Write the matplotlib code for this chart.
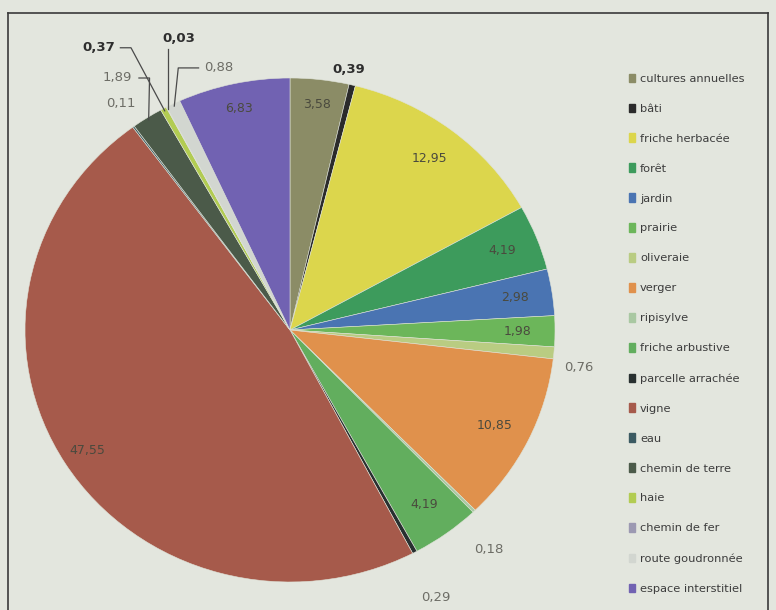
import numpy as np
import matplotlib
matplotlib.use('Agg')
import matplotlib.pyplot as plt

# land use shares (%), clockwise from 12 o'clock
categories = ['cultures annuelles', 'bâti', 'friche herbacée', 'forêt', 'jardin',
              'prairie', 'oliveraie', 'verger', 'ripisylve', 'friche arbustive',
              'parcelle arrachée', 'vigne', 'eau', 'chemin de terre', 'haie',
              'chemin de fer', 'route goudronnée', 'espace interstitiel']
values = [3.58, 0.39, 12.95, 4.19, 2.98, 1.98, 0.76, 10.85, 0.18, 4.19,
          0.29, 47.55, 0.11, 1.89, 0.37, 0.03, 0.88, 6.83]
colors = ['#8b8c66', '#2b2b2b', '#dcd64c', '#3d9b5c', '#4a74b2', '#6cb65a',
          '#b9cc82', '#e0914c', '#a9c8a2', '#62ae5e', '#283030', '#a65a4b',
          '#3b5a62', '#4b5a49', '#b2cc52', '#9c99b2', '#d2d6d0', '#7162b2']
inside = ['cultures annuelles', 'friche herbacée', 'forêt', 'jardin', 'prairie',
          'verger', 'friche arbustive', 'vigne', 'espace interstitiel']

bg = '#e3e6de'
W, H = 776, 610
fig = plt.figure(figsize=(W / 100, H / 100), dpi=100, facecolor=bg)

# frame around the chart
frame = fig.add_axes([8 / W, 0, 760 / W, (H - 13) / H])
frame.set_facecolor(bg)
frame.set_xticks([])
frame.set_yticks([])
frame.spines['bottom'].set_visible(False)
for s in ['top', 'left', 'right']:
    frame.spines[s].set_color('#3a3a3a')
    frame.spines[s].set_linewidth(1.2)

# pie axes (slightly wider than tall, as in the scan)
cx, cy, rx, ry = 290, 330, 265, 252
ax = fig.add_axes([(cx - rx) / W, (H - cy - ry) / H, 2 * rx / W, 2 * ry / H])
ax.set_facecolor('none')
wedges, _ = ax.pie(values, colors=colors, startangle=90, counterclock=False,
                   wedgeprops=dict(edgecolor='#dfe3d8', linewidth=0.4))
ax.set_aspect('auto')
ax.set_xlim(-1, 1)
ax.set_ylim(-1, 1)
ax.axis('off')

def fmt(v):
    return f'{v:.2f}'.replace('.', ',')

# labels inside the big slices
for w, name, v in zip(wedges, categories, values):
    if name not in inside:
        continue
    t = np.deg2rad((w.theta1 + w.theta2) / 2)
    r = 0.9 if name in ('cultures annuelles', 'espace interstitiel', 'vigne') else 0.86
    ax.text(r * np.cos(t), r * np.sin(t), fmt(v), ha='center', va='center',
            fontsize=9, color='#4a4a3e')

# labels outside the small slices: text position (pie units), leader line or not, bold
outside = {
    'bâti': ((0.22, 1.035), None, True),
    'oliveraie': ((1.09, -0.15), None, False),
    'ripisylve': ((0.75, -0.87), None, False),
    'parcelle arrachée': ((0.55, -1.06), None, False),
    'eau': ((-0.64, 0.90), None, False),
    'chemin de terre': ((-0.65, 1.0), 'diag', False),
    'haie': ((-0.72, 1.12), 'diag', True),
    'chemin de fer': ((-0.42, 1.155), 'vert', True),
    'route goudronnée': ((-0.27, 1.04), 'left', False),
}
for w, name, v in zip(wedges, categories, values):
    if name not in outside:
        continue
    (tx, ty), lead, bold = outside[name]
    col = '#2e2e2e' if bold else '#6d6d66'
    ax.text(tx, ty, fmt(v), ha='center', va='center', fontsize=9.5,
            color=col, fontweight='bold' if bold else 'normal', clip_on=False)
    if lead is None:
        continue
    t = np.deg2rad((w.theta1 + w.theta2) / 2)
    ex, ey = 0.99 * np.cos(t), 0.99 * np.sin(t)
    if lead == 'diag':
        pts = [(tx + 0.08, ty), (tx + 0.12, ty), (ex, ey)]
    elif lead == 'vert':
        pts = [(ex, ty - 0.04), (ex, ey)]
    else:
        pts = [(tx - 0.075, ty), (ex + 0.015, ty), (ex, ey)]
    xs, ys = zip(*pts)
    ax.plot(xs, ys, color='#4a4a4a', lw=0.9, clip_on=False)

# legend on the right
handles = [plt.Rectangle((0, 0), 1, 1, color=c) for c in colors]
fig.legend(handles, categories, loc='upper left', bbox_to_anchor=(624 / W, 1 - 69 / H),
           frameon=False, fontsize=8.2, handlelength=0.6, handleheight=0.75,
           handletextpad=0.4, labelspacing=1.74, labelcolor='#3c3c3c',
           borderaxespad=0)

fig.savefig('out.png', dpi=100, facecolor=bg)
